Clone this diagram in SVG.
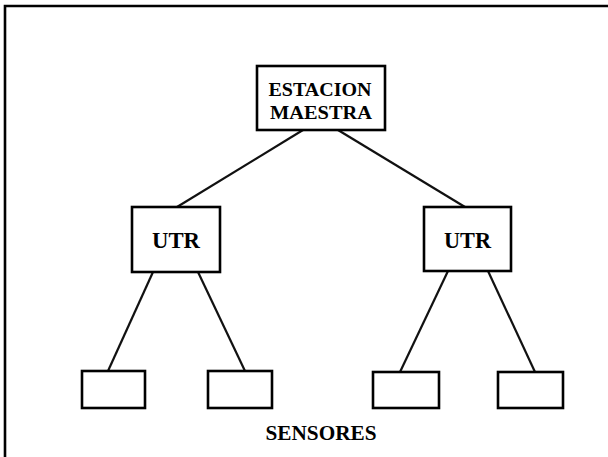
<svg xmlns="http://www.w3.org/2000/svg" width="608" height="457" viewBox="0 0 608 457">
  <style>
    .box { fill: none; stroke: #000; stroke-width: 2.6; }
    .edge { stroke: #111; stroke-width: 2.2; fill: none; }
    .frame { stroke: #000; stroke-width: 2.6; fill: none; }
    .lbl { font-family: "Liberation Serif", "DejaVu Serif", serif; font-weight: bold; fill: #000; }
  </style>
  <rect width="608" height="457" fill="#fff"/>
  <!-- partial outer frame: top and left edges -->
  <path class="frame" d="M5,457 V6 H608"/>

  <g id="connectors">
    <line class="edge" x1="303" y1="130" x2="177" y2="207"/>
    <line class="edge" x1="338" y1="130" x2="465" y2="207"/>
    <line class="edge" x1="153" y1="272" x2="108" y2="371"/>
    <line class="edge" x1="198" y1="272" x2="245" y2="371"/>
    <line class="edge" x1="448" y1="271" x2="400" y2="372"/>
    <line class="edge" x1="488" y1="271" x2="535" y2="372"/>
  </g>

  <g id="master">
    <rect class="box" x="257" y="66" width="128" height="64"/>
    <text class="lbl" x="320" y="96" font-size="19" text-anchor="middle" textLength="103" lengthAdjust="spacingAndGlyphs">ESTACION</text>
    <text class="lbl" x="321" y="119" font-size="19" text-anchor="middle" textLength="102" lengthAdjust="spacingAndGlyphs">MAESTRA</text>
  </g>

  <g id="utr-left">
    <rect class="box" x="132" y="207" width="88" height="65"/>
    <text class="lbl" x="176" y="248" font-size="23" text-anchor="middle" textLength="48" lengthAdjust="spacingAndGlyphs">UTR</text>
  </g>

  <g id="utr-right">
    <rect class="box" x="424" y="207" width="87" height="64"/>
    <text class="lbl" x="467.5" y="248" font-size="23" text-anchor="middle" textLength="47" lengthAdjust="spacingAndGlyphs">UTR</text>
  </g>

  <g id="sensor-1"><rect class="box" x="82" y="371" width="63" height="37"/></g>
  <g id="sensor-2"><rect class="box" x="208" y="371" width="64" height="37"/></g>
  <g id="sensor-3"><rect class="box" x="373" y="372" width="66" height="36"/></g>
  <g id="sensor-4"><rect class="box" x="498" y="372" width="65" height="36"/></g>

  <g id="caption">
    <text class="lbl" x="321" y="440" font-size="20" text-anchor="middle" textLength="111" lengthAdjust="spacingAndGlyphs">SENSORES</text>
  </g>
</svg>
